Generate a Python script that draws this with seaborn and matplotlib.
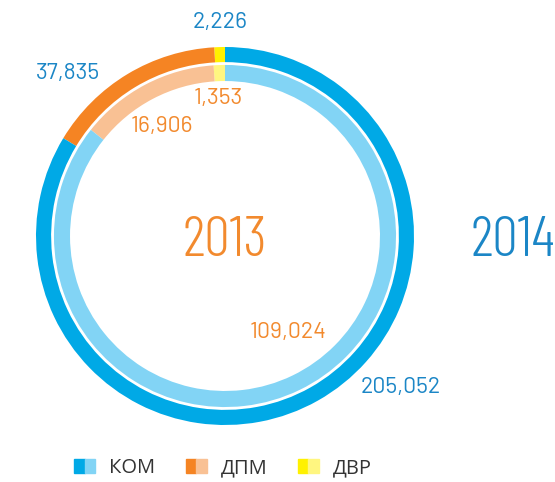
import matplotlib
matplotlib.use("Agg")
import matplotlib.pyplot as plt
import seaborn as sns
from matplotlib.patches import Patch
from matplotlib.legend_handler import HandlerTuple

# data
categories = ["ДВР", "ДПМ", "КОМ"]
values_2014 = [2226, 37835, 205052]
values_2013 = [1353, 16906, 109024]
legend_order = ["КОМ", "ДПМ", "ДВР"]

dark = {"КОМ": "#00a9e6", "ДПМ": "#f58423", "ДВР": "#fff100"}
light = {"КОМ": "#82d4f5", "ДПМ": "#f9c194", "ДВР": "#fff680"}
blue_txt = "#1b86c6"
orange_txt = "#f28a2e"

sns.set_theme(style="white")
plt.rcParams["font.family"] = ["Open Sans", "DejaVu Sans"]

num_font = ["Barlow", "Roboto", "DejaVu Sans"]
year_font = ["Barlow Condensed", "Roboto Condensed", "DejaVu Sans"]

fig = plt.figure(figsize=(5.55, 4.82), dpi=100)
ax = fig.add_axes([36 / 555, 57 / 482, 378 / 555, 378 / 482])

ax.pie(values_2014, colors=[dark[c] for c in categories], startangle=90,
       counterclock=True, radius=1.0, wedgeprops=dict(width=0.08, linewidth=0))
ax.pie(values_2013, colors=[light[c] for c in categories], startangle=90,
       counterclock=True, radius=0.905, wedgeprops=dict(width=0.085, linewidth=0))
ax.set_xlim(-1, 1)
ax.set_ylim(-1, 1)
ax.set_aspect("equal")
ax.axis("off")

# value labels
lab = dict(fontsize=16.5, ha="center", va="center", family=num_font, fontweight=400)
ax.text(-0.026, 1.132, f"{values_2014[0]:,}", color=blue_txt, **lab)
ax.text(-0.831, 0.862, f"{values_2014[1]:,}", color=blue_txt, **lab)
ax.text(0.931, -0.804, f"{values_2014[2]:,}", color=blue_txt, **lab)
ax.text(-0.037, 0.730, f"{values_2013[0]:,}", color=orange_txt, **lab)
ax.text(-0.333, 0.577, f"{values_2013[1]:,}", color=orange_txt, **lab)
ax.text(0.333, -0.513, f"{values_2013[2]:,}", color=orange_txt, **lab)

# year labels
yr = dict(fontsize=41, va="center", family=year_font, fontweight=300)
ax.text(0, -0.03, "2013", color=orange_txt, ha="center", **yr)
fig.text(555 / 555, 1 - 241 / 482, "2014", color=blue_txt, ha="right", **yr)

# legend with two-tone squares
handles = [(Patch(color=dark[c]), Patch(color=light[c])) for c in legend_order]
fig.legend(handles, legend_order, handler_map={tuple: HandlerTuple(ndivide=None, pad=0)},
           loc="center", bbox_to_anchor=(223 / 555, 1 - 468 / 482), ncol=3, frameon=False,
           fontsize=14.5, handlelength=1.05, handleheight=0.75, handletextpad=0.7,
           columnspacing=1.5, labelcolor="#333333")

fig.savefig("out.png", dpi=100)
